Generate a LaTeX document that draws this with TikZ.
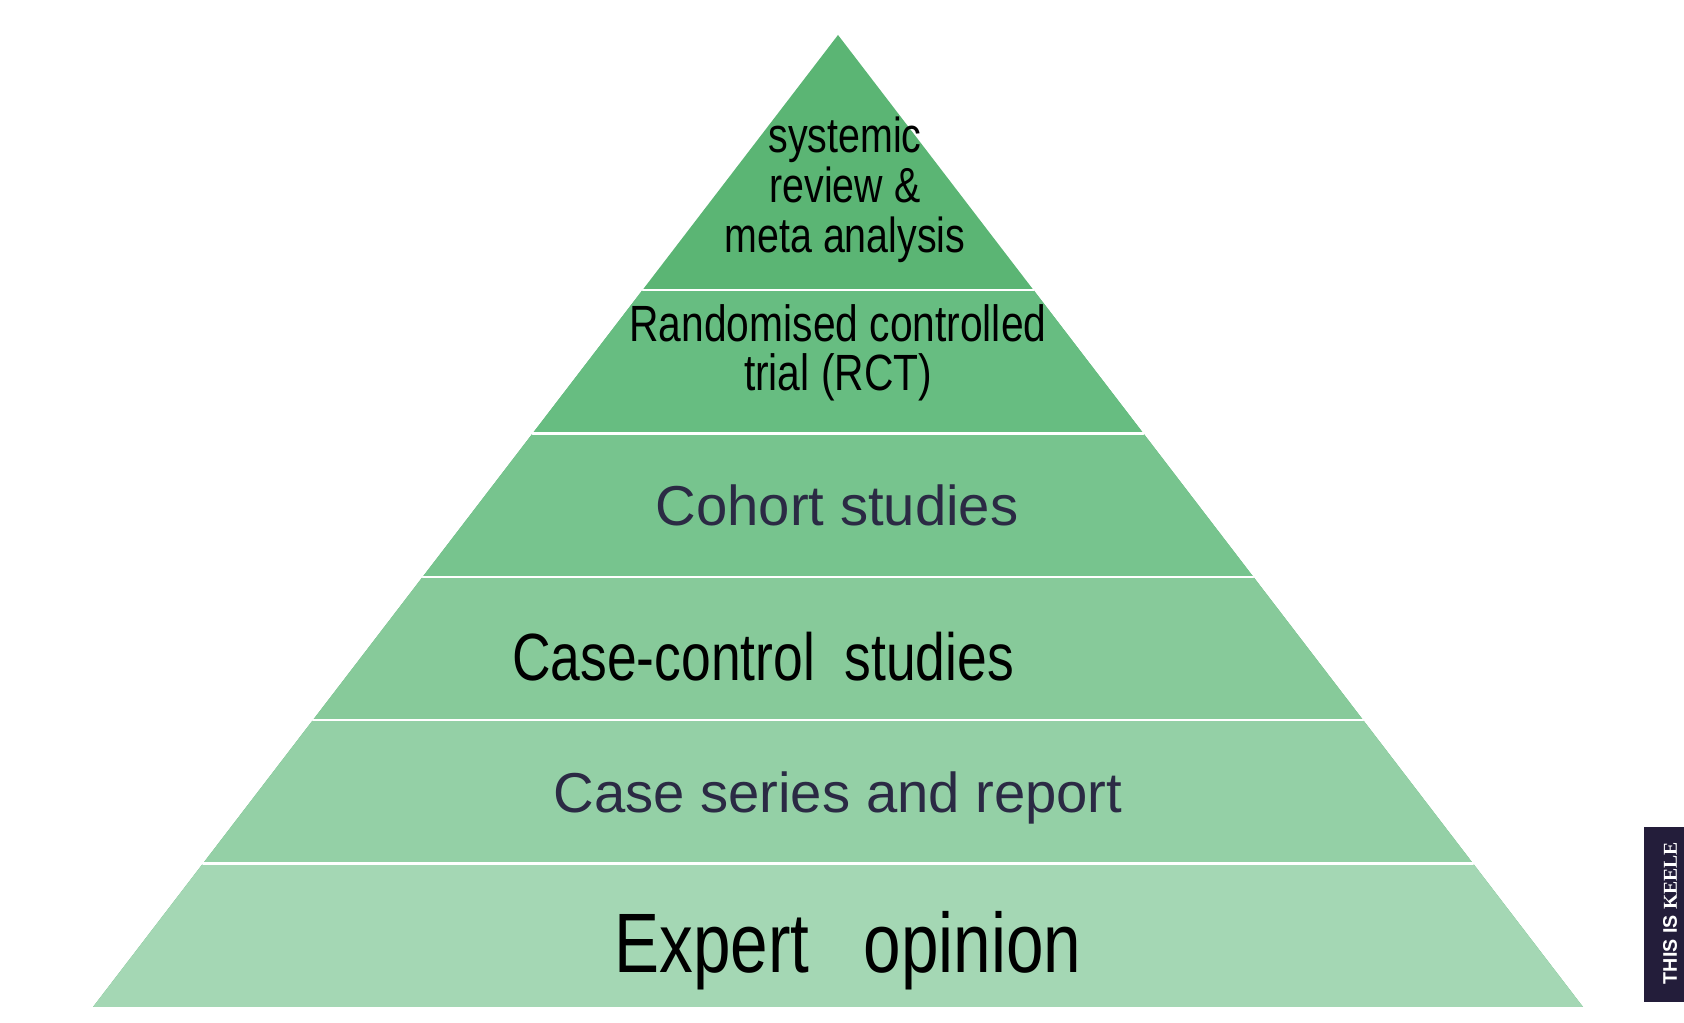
\documentclass[tikz,border=0pt]{standalone}
\usepackage{fontspec}
\usepackage{graphicx}
\setmainfont{Liberation Sans}
\newfontfamily\keeleserif{Liberation Serif}
\usetikzlibrary{calc}
\definecolor{bandA}{HTML}{5BB574}
\definecolor{bandB}{HTML}{67BD81}
\definecolor{bandC}{HTML}{77C48E}
\definecolor{bandD}{HTML}{87CA9A}
\definecolor{bandE}{HTML}{94D0A6}
\definecolor{bandF}{HTML}{A4D7B4}
\definecolor{typedtext}{HTML}{2B2A44}
\definecolor{keelenavy}{HTML}{231D3A}
\newcommand{\handtext}[3]{\scalebox{0.8}[1]{\fontsize{#1}{#2}\selectfont\begin{tabular}{@{}c@{}}#3\end{tabular}}}

\begin{document}
\begin{tikzpicture}[line cap=round,line join=round]
  \useasboundingbox (0,0) rectangle (16.84,10.23);
  \coordinate (T) at (8.38,9.88);
  \coordinate (L) at (0.93,0.16);
  \coordinate (R) at (15.83,0.16);
  % pyramid bands
  \begin{scope}
    \clip (L)--(T)--(R)--cycle;
    \fill[bandA] (0,0) rectangle (16.84,10.23);
    \foreach \k/\col in {0/bandF,1/bandE,2/bandD,3/bandC,4/bandB}{
      \fill[\col] (0,{0.16+1.434*\k}) rectangle (16.84,{0.16+1.434*(\k+1)});
    }
  \end{scope}
  \foreach \k in {1,...,5}{
    \draw[white,line width=0.7pt] ($(L)!{\k*1.434/9.72}!(T)$) -- ($(R)!{\k*1.434/9.72}!(T)$);
  }
  % level labels
  \node (smr) at (8.45,8.31) {\handtext{14}{13.5}{systemic\\review \&\\meta analysis}};
  \node (rct) at (8.38,6.69) {\handtext{14.5}{12}{Randomised controlled\\trial (RCT)}};
  \node[font=\fontsize{16}{19}\selectfont,text=typedtext,anchor=base] (cohort) at (8.37,4.97) {Cohort studies};
  \node (casecontrol) at (7.63,3.58) {\handtext{19}{22}{Case-control~~studies}};
  \node[font=\fontsize{16}{19}\selectfont,text=typedtext,anchor=base] (series) at (8.38,2.10) {Case series and report};
  \node (expert) at (8.48,0.70) {\handtext{24}{28}{Expert\hspace{0.8em}opinion}};
  % badge
  \fill[keelenavy] (16.44,0.21) rectangle (16.84,1.96);
  \node[rotate=90,text=white,font=\bfseries\fontsize{5.6}{7}\selectfont] (keele) at (16.70,1.10) {THIS IS {\keeleserif KEELE}};
\end{tikzpicture}
\end{document}
